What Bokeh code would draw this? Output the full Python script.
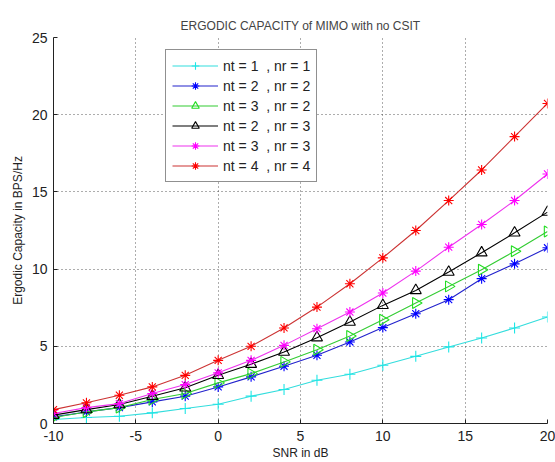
import numpy as np
from bokeh.plotting import figure
from bokeh.models import Range1d, Legend, LegendItem, FixedTicker
from bokeh.embed import file_html
from bokeh.resources import INLINE

snr_db = [-10, -8, -6, -4, -2, 0, 2, 4, 6, 8, 10, 12, 14, 16, 18, 20]

cap_1x1 = [0.26, 0.39, 0.47, 0.69, 0.97, 1.25, 1.77, 2.20, 2.80, 3.19, 3.77, 4.35, 4.96, 5.54, 6.19, 6.90]
cap_2x2 = [0.43, 0.75, 1.03, 1.40, 1.77, 2.37, 3.02, 3.71, 4.42, 5.28, 6.21, 7.11, 8.02, 9.38, 10.34, 11.38]
cap_3x2 = [0.39, 0.75, 1.03, 1.55, 1.94, 2.63, 3.23, 3.99, 4.78, 5.67, 6.72, 7.80, 8.88, 9.96, 11.16, 12.44]
cap_2x3 = [0.54, 0.90, 1.23, 1.77, 2.31, 3.12, 3.84, 4.63, 5.56, 6.57, 7.65, 8.62, 9.81, 11.06, 12.35, 13.69]
cap_3x3 = [0.65, 1.03, 1.29, 1.94, 2.52, 3.28, 4.09, 5.06, 6.14, 7.22, 8.45, 9.87, 11.42, 12.89, 14.44, 16.16]
cap_4x4 = [0.90, 1.34, 1.83, 2.37, 3.12, 4.09, 5.00, 6.19, 7.54, 9.05, 10.73, 12.50, 14.44, 16.42, 18.58, 20.73]

labels = ["nt = 1  , nr = 1", "nt = 2  , nr = 2", "nt = 3  , nr = 2",
          "nt = 2  , nr = 3", "nt = 3  , nr = 3", "nt = 4  , nr = 4"]
x_ticks = [-10, -5, 0, 5, 10, 15, 20]
x_tick_labels = ["-10", "-5", "0", "5", "10", "15", "20"]
y_ticks = [0, 5, 10, 15, 20, 25]

series = [cap_1x1, cap_2x2, cap_3x2, cap_2x3, cap_3x3, cap_4x4]
colors = ["#1ee6e6", "#0000ff", "#22dd22", "#000000", "#ff00ff", "#ff0000"]
line_colors = ["#33dddd", "#2222cc", "#33cc33", "#000000", "#ee33ee", "#cc3333"]
markers = ["cross", "asterisk", "triangle", "triangle", "asterisk", "asterisk"]
angles = [0, 0, -np.pi / 2, 0, 0, 0]
sizes = [11, 10, 11, 11, 10, 10]

FONT = "Liberation Sans"

p = figure(width=555, height=462, output_backend="svg", toolbar_location=None,
           x_range=Range1d(-10, 20), y_range=Range1d(0, 25),
           min_border_left=53, min_border_right=8, min_border_top=37, min_border_bottom=39)
p.outline_line_color = None
p.background_fill_color = "white"
p.border_fill_color = "white"

p.title.text = "ERGODIC CAPACITY of MIMO with no CSIT"
p.title.text_font = FONT
p.title.text_font_size = "12px"
p.title.text_font_style = "normal"
p.title.align = "center"
p.title.offset = 0

p.xaxis.ticker = FixedTicker(ticks=x_ticks)
p.yaxis.ticker = FixedTicker(ticks=y_ticks)
p.xaxis.major_label_overrides = {t: s for t, s in zip(x_ticks, x_tick_labels)}
for ax in (p.xaxis[0], p.yaxis[0]):
    ax.major_tick_in = 4
    ax.major_tick_out = 0
    ax.minor_tick_in = 0
    ax.minor_tick_out = 0
    ax.axis_line_color = "#222222"
    ax.major_tick_line_color = "#222222"
    ax.major_label_text_font = FONT
    ax.major_label_text_font_size = "14px"
    ax.major_label_text_color = "#222222"
    ax.axis_label_text_font = FONT
    ax.axis_label_text_font_size = "12px"
    ax.axis_label_text_font_style = "normal"
    ax.axis_label_text_color = "#222222"
p.xaxis.axis_label = "SNR in dB"
p.yaxis.axis_label = "Ergodic Capacity in BPS/Hz"
p.xaxis.major_label_standoff = 7
p.yaxis.major_label_standoff = 6
p.xaxis.axis_label_standoff = 2
p.yaxis.axis_label_standoff = 4

p.grid.grid_line_color = "#333333"
p.grid.grid_line_dash = "1 3"
p.grid.grid_line_alpha = 0.8
p.xgrid.ticker = FixedTicker(ticks=x_ticks)
p.ygrid.ticker = FixedTicker(ticks=y_ticks)

items = []
for lab, ys, c, lc, m, a, s in zip(labels, series, colors, line_colors, markers, angles, sizes):
    r1 = p.line(snr_db, ys, line_color=lc, line_width=1.1)
    r2 = p.scatter(snr_db, ys, marker=m, angle=a, size=s, line_color=c,
                   fill_color=None, line_width=1.1)
    items.append(LegendItem(label=lab, renderers=[r1, r2]))

legend = Legend(items=items, location=(112, 241))
legend.label_text_font = FONT
legend.label_text_font_size = "14px"
legend.label_text_color = "#222222"
legend.glyph_width = 46
legend.glyph_height = 19
legend.label_height = 19
legend.spacing = 1
legend.padding = 6
legend.margin = 0
legend.border_line_color = "#222222"
legend.border_line_width = 1
legend.background_fill_alpha = 1
p.add_layout(legend, "center")

open("out.html", "w").write(file_html(p, INLINE))
